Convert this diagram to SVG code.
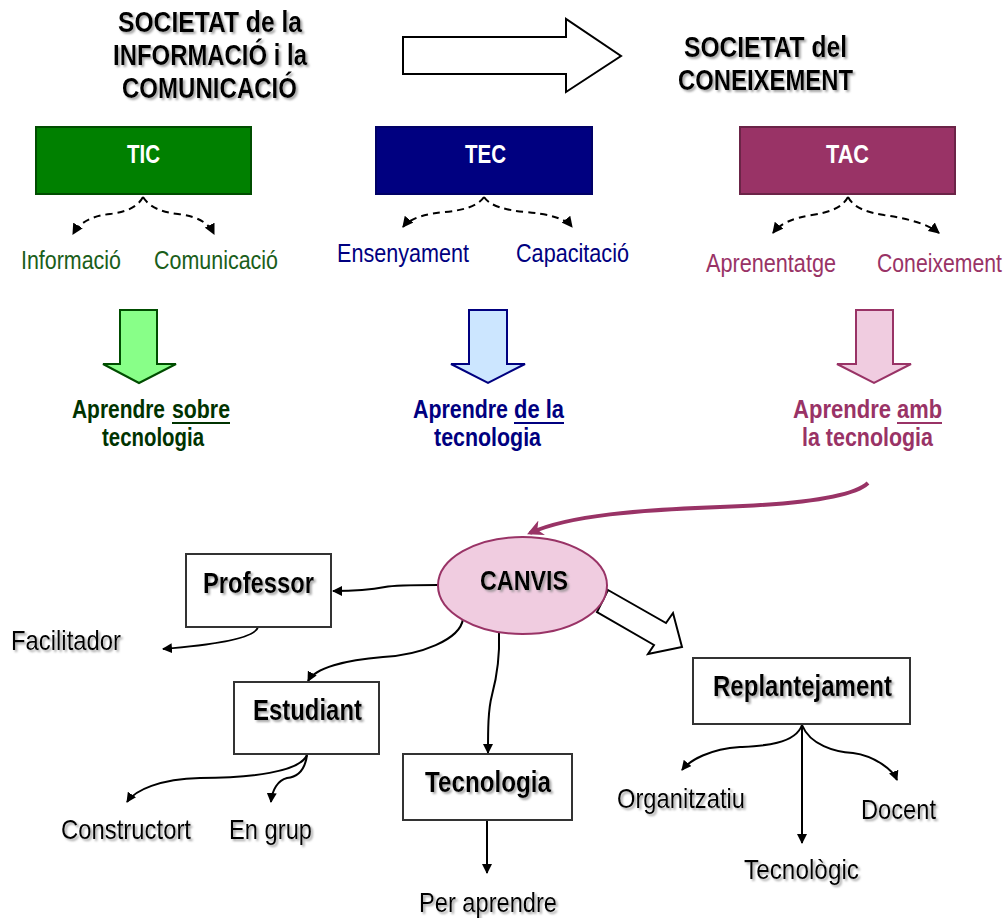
<svg xmlns="http://www.w3.org/2000/svg" width="1008" height="918" viewBox="0 0 1008 918">
  <defs>
    <filter id="shadow" x="-10%" y="-20%" width="130%" height="150%">
      <feDropShadow dx="2" dy="2" stdDeviation="0.8" flood-color="#888" flood-opacity="0.75"/>
    </filter>
    <marker id="arrow" viewBox="0 0 10 10" refX="9" refY="5" markerWidth="10" markerHeight="10" markerUnits="userSpaceOnUse" orient="auto">
      <path d="M0,0 L10,5 L0,10 z" fill="#000"/>
    </marker>
    <marker id="arrowDash" viewBox="0 0 10 10" refX="9" refY="5" markerWidth="11" markerHeight="11" markerUnits="userSpaceOnUse" orient="auto">
      <path d="M0,0 L10,5 L0,10 z" fill="#000"/>
    </marker>
    <marker id="arrowPink" viewBox="0 0 10 10" refX="8" refY="5" markerWidth="16" markerHeight="16" markerUnits="userSpaceOnUse" orient="auto">
      <path d="M0,0 L10,5 L0,10 L3,5 z" fill="#993366"/>
    </marker>
  </defs>
  <style>
    text { font-family: "Liberation Sans", Arial, sans-serif; }
    .title { font-size: 29px; font-weight: bold; fill: #000; filter: url(#shadow); }
    .boxlabel { font-size: 26px; font-weight: bold; fill: #fff; }
    .sub { font-size: 26px; }
    .green { fill: #1a5e1a; }
    .blue { fill: #000080; }
    .pink { fill: #993366; }
    .learn { font-size: 26px; font-weight: bold; }
    .node { fill: #fff; stroke: #333; stroke-width: 2; }
    .nodetext { font-size: 29px; font-weight: bold; fill: #000; filter: url(#shadow); }
    .leaf { font-size: 28px; fill: #000; filter: url(#shadow); }
    .dash { fill: none; stroke: #000; stroke-width: 2; stroke-dasharray: 7 5; marker-end: url(#arrowDash); }
    .link { fill: none; stroke: #000; stroke-width: 2; marker-end: url(#arrow); }
  </style>

  <!-- Headings -->
  <g id="title-informacio">
    <text class="title" x="118" y="32" textLength="184" lengthAdjust="spacingAndGlyphs">SOCIETAT de la</text>
    <text class="title" x="113" y="65" textLength="194" lengthAdjust="spacingAndGlyphs">INFORMACIÓ i la</text>
    <text class="title" x="122" y="98" textLength="175" lengthAdjust="spacingAndGlyphs">COMUNICACIÓ</text>
  </g>
  <g id="big-arrow">
    <polygon points="403,37 566,37 566,19 621,56 566,92 566,74 403,74" fill="#fff" stroke="#000" stroke-width="2"/>
  </g>
  <g id="title-coneixement">
    <text class="title" x="684" y="57" textLength="163" lengthAdjust="spacingAndGlyphs">SOCIETAT del</text>
    <text class="title" x="678" y="90" textLength="175" lengthAdjust="spacingAndGlyphs">CONEIXEMENT</text>
  </g>

  <!-- Three technology boxes -->
  <g id="tic">
    <rect x="36" y="127" width="215" height="67" fill="#008000" stroke="#004d00" stroke-width="2"/>
    <text class="boxlabel" x="127" y="163" textLength="33" lengthAdjust="spacingAndGlyphs">TIC</text>
  </g>
  <g id="tec">
    <rect x="376" y="127" width="216" height="67" fill="#000080" stroke="#000066" stroke-width="2"/>
    <text class="boxlabel" x="465" y="163" textLength="41" lengthAdjust="spacingAndGlyphs">TEC</text>
  </g>
  <g id="tac">
    <rect x="740" y="127" width="215" height="67" fill="#993366" stroke="#6b2447" stroke-width="2"/>
    <text class="boxlabel" x="826" y="163" textLength="43" lengthAdjust="spacingAndGlyphs">TAC</text>
  </g>

  <!-- Sub-concepts -->
  <g id="tic-sub">
    <text class="sub green" x="21" y="269" textLength="100" lengthAdjust="spacingAndGlyphs">Informació</text>
    <text class="sub green" x="154" y="269" textLength="124" lengthAdjust="spacingAndGlyphs">Comunicació</text>
  </g>
  <g id="tec-sub">
    <text class="sub blue" x="337" y="262" textLength="132" lengthAdjust="spacingAndGlyphs">Ensenyament</text>
    <text class="sub blue" x="516" y="262" textLength="113" lengthAdjust="spacingAndGlyphs">Capacitació</text>
  </g>
  <g id="tac-sub">
    <text class="sub pink" x="706" y="272" textLength="130" lengthAdjust="spacingAndGlyphs">Aprenentatge</text>
    <text class="sub pink" x="877" y="272" textLength="125" lengthAdjust="spacingAndGlyphs">Coneixement</text>
  </g>

  <!-- Block arrows -->
  <g id="arrow-tic">
    <polygon points="120,310 157,310 157,364 176,364 139,383 103,364 120,364" fill="#88ff88" stroke="#004d00" stroke-width="2"/>
  </g>
  <g id="arrow-tec">
    <polygon points="469,310 507,310 507,364 525,364 488,383 451,364 469,364" fill="#cce6ff" stroke="#000080" stroke-width="2"/>
  </g>
  <g id="arrow-tac">
    <polygon points="856,310 893,310 893,364 911,364 874,383 837,364 856,364" fill="#f0cce0" stroke="#993366" stroke-width="2"/>
  </g>

  <!-- Learning modes -->
  <g id="learn-tic" fill="#003300">
    <text class="learn" x="72" y="418" textLength="93" lengthAdjust="spacingAndGlyphs">Aprendre</text>
    <text class="learn" x="172" y="418" textLength="58" lengthAdjust="spacingAndGlyphs">sobre</text>
    <line x1="172" y1="423" x2="230" y2="423" stroke="#003300" stroke-width="2"/>
    <text class="learn" x="102" y="446" textLength="102" lengthAdjust="spacingAndGlyphs">tecnologia</text>
  </g>
  <g id="learn-tec" fill="#000080">
    <text class="learn" x="413" y="418" textLength="95" lengthAdjust="spacingAndGlyphs">Aprendre</text>
    <text class="learn" x="514" y="418" textLength="50" lengthAdjust="spacingAndGlyphs">de la</text>
    <line x1="514" y1="423" x2="564" y2="423" stroke="#000080" stroke-width="2"/>
    <text class="learn" x="434" y="446" textLength="107" lengthAdjust="spacingAndGlyphs">tecnologia</text>
  </g>
  <g id="learn-tac" fill="#993366">
    <text class="learn" x="793" y="418" textLength="98" lengthAdjust="spacingAndGlyphs">Aprendre</text>
    <text class="learn" x="897" y="418" textLength="45" lengthAdjust="spacingAndGlyphs">amb</text>
    <line x1="897" y1="423" x2="942" y2="423" stroke="#993366" stroke-width="2"/>
    <text class="learn" x="802" y="446" textLength="131" lengthAdjust="spacingAndGlyphs">la tecnologia</text>
  </g>

  <!-- Connectors -->
  <g id="connectors">
    <!-- dashed branches under the boxes -->
    <path class="dash" d="M143,197 C137,208 125,212 110,214 C92,216 80,222 73,234"/>
    <path class="dash" d="M143,197 C150,208 162,212 178,214 C196,216 208,222 214,234"/>
    <path class="dash" d="M484,197 C478,206 465,210 445,212 C425,214 410,218 403,227"/>
    <path class="dash" d="M484,197 C490,206 505,210 525,212 C548,214 565,218 572,227"/>
    <path class="dash" d="M848,197 C842,208 830,212 812,215 C792,218 780,224 773,233"/>
    <path class="dash" d="M848,197 C854,208 866,212 884,215 C906,218 928,224 939,233"/>

    <!-- TAC outcome to CANVIS -->
    <path d="M868,483 C850,500 780,505 720,507 C640,510 570,515 530,533" fill="none" stroke="#993366" stroke-width="4" marker-end="url(#arrowPink)"/>

    <!-- hollow arrow to Replantejament -->
    <polygon points="608,590 666,623 673,613 682,647 648,654 654,645 597,612" fill="#fff" stroke="#000" stroke-width="2"/>

    <!-- CANVIS branches -->
    <path class="link" d="M438,585 C410,585 395,585 385,587 C370,590 355,591 333,591"/>
    <path class="link" d="M463,619 C460,640 420,655 383,657 C345,660 315,668 308,681"/>
    <path class="link" d="M499,633 C500,660 496,680 492,695 C488,710 488,730 488,753"/>

    <!-- Professor / Estudiant / Tecnologia outcomes -->
    <path class="link" d="M258,627 C255,640 200,646 163,649"/>
    <path class="link" d="M307,755 C300,772 250,778 200,778 C160,779 135,790 127,802"/>
    <path class="link" d="M307,755 C305,770 298,777 287,778 C278,780 272,790 271,802"/>
    <path class="link" d="M487,820 L487,873"/>

    <!-- Replantejament outcomes -->
    <path class="link" d="M802,725 C795,745 760,746 740,747 C710,749 690,760 682,770"/>
    <path class="link" d="M802,725 L802,843"/>
    <path class="link" d="M802,725 C810,745 835,752 853,753 C875,756 893,770 897,780"/>
  </g>

  <!-- Lower concept map -->
  <g id="canvis">
    <ellipse cx="522.5" cy="585.5" rx="84.5" ry="48.5" fill="#f0cce0" stroke="#993366" stroke-width="2"/>
    <text class="nodetext" x="480" y="590" style="font-size:28px" textLength="88" lengthAdjust="spacingAndGlyphs">CANVIS</text>
  </g>
  <g id="professor">
    <rect class="node" x="186" y="554" width="145" height="73"/>
    <text class="nodetext" x="203" y="593" textLength="111" lengthAdjust="spacingAndGlyphs">Professor</text>
  </g>
  <g id="estudiant">
    <rect class="node" x="234" y="682" width="145" height="72"/>
    <text class="nodetext" x="253" y="720" textLength="109" lengthAdjust="spacingAndGlyphs">Estudiant</text>
  </g>
  <g id="tecnologia">
    <rect class="node" x="403" y="754" width="169" height="66"/>
    <text class="nodetext" x="425" y="792" textLength="126" lengthAdjust="spacingAndGlyphs">Tecnologia</text>
  </g>
  <g id="replantejament">
    <rect class="node" x="693" y="658" width="217" height="66"/>
    <text class="nodetext" x="713" y="696" textLength="179" lengthAdjust="spacingAndGlyphs">Replantejament</text>
  </g>

  <g id="leaves">
    <text class="leaf" x="11" y="650" textLength="110" lengthAdjust="spacingAndGlyphs">Facilitador</text>
    <text class="leaf" x="61" y="839" textLength="130" lengthAdjust="spacingAndGlyphs">Constructort</text>
    <text class="leaf" x="229" y="839" textLength="83" lengthAdjust="spacingAndGlyphs">En grup</text>
    <text class="leaf" x="419" y="912" textLength="138" lengthAdjust="spacingAndGlyphs">Per aprendre</text>
    <text class="leaf" x="617" y="808" textLength="128" lengthAdjust="spacingAndGlyphs">Organitzatiu</text>
    <text class="leaf" x="744" y="879" textLength="115" lengthAdjust="spacingAndGlyphs">Tecnològic</text>
    <text class="leaf" x="861" y="819" textLength="75" lengthAdjust="spacingAndGlyphs">Docent</text>
  </g>
</svg>
